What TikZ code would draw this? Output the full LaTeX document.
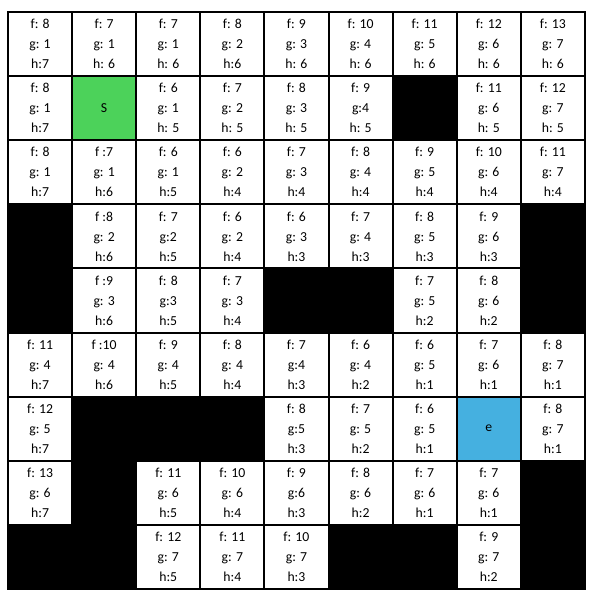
\documentclass[tikz,border=0pt]{standalone}
\usepackage{fontspec}
\setmainfont{Carlito}
\definecolor{startgreen}{RGB}{76,210,90}
\definecolor{goalblue}{RGB}{69,176,224}
\begin{document}
\begin{tikzpicture}[x=48.075pt, y=48.075pt,
    cell/.style={draw, line width=1.5pt, minimum size=48.075pt, inner sep=0pt,
      outer sep=0pt, align=center, font=\fontsize{10.3}{15}\selectfont},
    wall/.style={cell, fill=black},
    startcell/.style={cell, fill=startgreen},
    goalcell/.style={cell, fill=goalblue}]
  \useasboundingbox (-0.1248,0.1872) rectangle (9.111,-9.220);
  % open cells: row/col/f/g/h
  \foreach \r/\c/\fv/\gv/\hv in {
      1/1/{f: 8}/{g: 1}/{h:7}, 1/2/{f: 7}/{g: 1}/{h: 6}, 1/3/{f: 7}/{g: 1}/{h: 6},
      1/4/{f: 8}/{g: 2}/{h:6}, 1/5/{f: 9}/{g: 3}/{h: 6}, 1/6/{f: 10}/{g: 4}/{h: 6},
      1/7/{f: 11}/{g: 5}/{h: 6}, 1/8/{f: 12}/{g: 6}/{h: 6}, 1/9/{f: 13}/{g: 7}/{h: 6},
      2/1/{f: 8}/{g: 1}/{h:7}, 2/3/{f: 6}/{g: 1}/{h: 5}, 2/4/{f: 7}/{g: 2}/{h: 5},
      2/5/{f: 8}/{g: 3}/{h: 5}, 2/6/{f: 9}/{g:4}/{h: 5}, 2/8/{f: 11}/{g: 6}/{h: 5},
      2/9/{f: 12}/{g: 7}/{h: 5},
      3/1/{f: 8}/{g: 1}/{h:7}, 3/2/{f :7}/{g: 1}/{h:6}, 3/3/{f: 6}/{g: 1}/{h:5},
      3/4/{f: 6}/{g: 2}/{h:4}, 3/5/{f: 7}/{g: 3}/{h:4}, 3/6/{f: 8}/{g: 4}/{h:4},
      3/7/{f: 9}/{g: 5}/{h:4}, 3/8/{f: 10}/{g: 6}/{h:4}, 3/9/{f: 11}/{g: 7}/{h:4},
      4/2/{f :8}/{g: 2}/{h:6}, 4/3/{f: 7}/{g:2}/{h:5}, 4/4/{f: 6}/{g: 2}/{h:4},
      4/5/{f: 6}/{g: 3}/{h:3}, 4/6/{f: 7}/{g: 4}/{h:3}, 4/7/{f: 8}/{g: 5}/{h:3},
      4/8/{f: 9}/{g: 6}/{h:3},
      5/2/{f :9}/{g: 3}/{h:6}, 5/3/{f: 8}/{g:3}/{h:5}, 5/4/{f: 7}/{g: 3}/{h:4},
      5/7/{f: 7}/{g: 5}/{h:2}, 5/8/{f: 8}/{g: 6}/{h:2},
      6/1/{f: 11}/{g: 4}/{h:7}, 6/2/{f :10}/{g: 4}/{h:6}, 6/3/{f: 9}/{g: 4}/{h:5},
      6/4/{f: 8}/{g: 4}/{h:4}, 6/5/{f: 7}/{g:4}/{h:3}, 6/6/{f: 6}/{g: 4}/{h:2},
      6/7/{f: 6}/{g: 5}/{h:1}, 6/8/{f: 7}/{g: 6}/{h:1}, 6/9/{f: 8}/{g: 7}/{h:1},
      7/1/{f: 12}/{g: 5}/{h:7}, 7/5/{f: 8}/{g:5}/{h:3}, 7/6/{f: 7}/{g: 5}/{h:2},
      7/7/{f: 6}/{g: 5}/{h:1}, 7/9/{f: 8}/{g: 7}/{h:1},
      8/1/{f: 13}/{g: 6}/{h:7}, 8/3/{f: 11}/{g: 6}/{h:5}, 8/4/{f: 10}/{g: 6}/{h:4},
      8/5/{f: 9}/{g:6}/{h:3}, 8/6/{f: 8}/{g: 6}/{h:2}, 8/7/{f: 7}/{g: 6}/{h:1},
      8/8/{f: 7}/{g: 6}/{h:1},
      9/3/{f: 12}/{g: 7}/{h:5}, 9/4/{f: 11}/{g: 7}/{h:4}, 9/5/{f: 10}/{g: 7}/{h:3},
      9/8/{f: 9}/{g: 7}/{h:2}}
    \node[cell] (c\r\c) at (\c-0.5,0.5-\r) {\fv\\\gv\\\hv};
  % walls
  \foreach \r/\c in {2/7, 4/1, 4/9, 5/1, 5/5, 5/6, 5/9, 7/2, 7/3, 7/4,
      8/2, 8/9, 9/1, 9/2, 9/6, 9/7, 9/9}
    \node[wall] (c\r\c) at (\c-0.5,0.5-\r) {};
  % start and end
  \node[startcell] (c22) at (1.5,-1.5) {S};
  \node[goalcell] (c78) at (7.5,-6.5) {e};
\end{tikzpicture}
\end{document}
